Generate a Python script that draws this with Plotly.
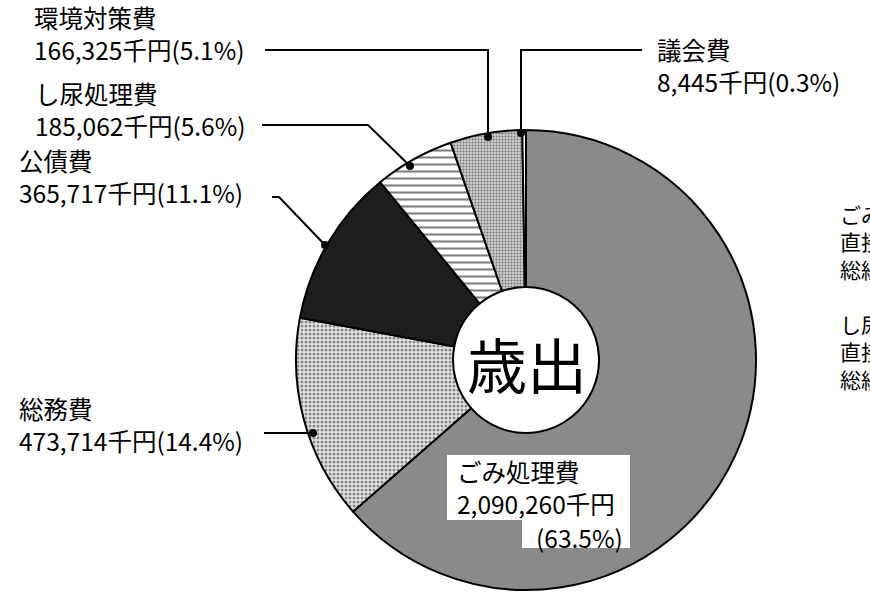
import plotly.graph_objects as go

W, H = 870, 594

# ---- data ----
categories = ["ごみ処理費", "総務費", "公債費", "し尿処理費", "環境対策費", "議会費"]
amounts = [2090260, 473714, 365717, 185062, 166325, 8445]   # 千円
percents = ["63.5%", "14.4%", "11.1%", "5.6%", "5.1%", "0.3%"]
center_title = "歳出"
side_notes_1 = ["ごみ処理費", "直接経費", "総経費"]
side_notes_2 = ["し尿処理費", "直接経費", "総経費"]

# ---- styles ----
fill_colors = ["#8a8a8a", "#e6e6e6", "#1e1e1e", "#ffffff", "#d0d0d0", "#ffffff"]
pat_shapes = ["", ".", "", "-", ".", ""]
pat_fg = ["#555555", "#2a2a2a", "#000000", "#000000", "#1a1a1a", "#000000"]
pat_size = [4, 4, 4, 7, 3, 4]
pat_solid = [0.3, 0.45, 0.3, 0.3, 0.4, 0.3]

FONT = "Noto Sans CJK JP"
FS = 24.5


def px(x):
    return x / W


def py(y):
    return 1 - y / H


cx, cy, R = 526, 360, 230

fig = go.Figure()
fig.add_trace(go.Pie(
    labels=categories,
    values=amounts,
    sort=False,
    direction="clockwise",
    rotation=0,
    hole=73 / 230,
    textinfo="none",
    hoverinfo="label+value+percent",
    showlegend=False,
    marker=dict(
        colors=fill_colors,
        line=dict(color="black", width=2),
        pattern=dict(shape=pat_shapes, fgcolor=pat_fg, size=pat_size,
                     solidity=pat_solid, fillmode="overlay"),
    ),
    domain=dict(x=[px(cx - R), px(cx + R)], y=[py(cy + R), py(cy - R)]),
))


def fmt(i):
    return f"{amounts[i]:,}千円({percents[i]})"


annotations = []
shapes = []


def text(x, y, s, size=FS, anchor="left", align="left"):
    annotations.append(dict(
        x=px(x), y=py(y), xref="paper", yref="paper", text=s,
        showarrow=False, xanchor=anchor, yanchor="middle", align=align,
        font=dict(family=FONT, size=size, color="black"),
    ))


def leader(points, dot=True):
    d = "M " + " L ".join(f"{px(a):.5f},{py(b):.5f}" for a, b in points)
    shapes.append(dict(type="path", path=d, xref="paper", yref="paper",
                       line=dict(color="black", width=2), layer="above"))
    if dot:
        ex, ey = points[-1]
        r = 4
        shapes.append(dict(type="circle", xref="paper", yref="paper",
                           x0=px(ex - r), x1=px(ex + r), y0=py(ey + r), y1=py(ey - r),
                           fillcolor="black", line=dict(color="black", width=0),
                           layer="above"))


# label layout: (left x, centre y of the two-line block)
label_pos = {
    4: (32, 34),
    3: (33, 110),
    2: (17, 176),
    1: (17, 424),
    5: (655, 65),
}
for i, (lx, ly) in label_pos.items():
    text(lx, ly, categories[i] + "<br>" + fmt(i))

leader([(265, 50), (488, 50), (488, 137)])
leader([(642, 50), (521, 50), (521, 133)])
leader([(262, 125), (368, 125), (410, 166)])
leader([(272, 197), (279, 197), (325, 245)])
leader([(264, 433), (313, 433)])

# white boxes for ごみ処理費 label
for (x0, y0, x1, y1) in [(447, 455, 630, 520), (522, 519, 630, 548)]:
    shapes.append(dict(type="rect", xref="paper", yref="paper",
                       x0=px(x0), x1=px(x1), y0=py(y1), y1=py(y0),
                       fillcolor="white", line=dict(width=0), layer="above"))
text(455, 487, categories[0] + "<br>" + f"{amounts[0]:,}千円")
text(625, 537, f"({percents[0]})", anchor="right")

# center title
text(527, 362, center_title, size=60, anchor="center")

# notes cut off at the right edge (as in the source scan)
text(838, 241, "<br>".join(side_notes_1), size=21)
text(838, 351, "<br>".join(side_notes_2), size=21)

fig.update_layout(
    width=W, height=H,
    margin=dict(l=0, r=0, t=0, b=0),
    paper_bgcolor="white",
    plot_bgcolor="white",
    annotations=annotations,
    shapes=shapes,
)

fig.write_html("out.html")
